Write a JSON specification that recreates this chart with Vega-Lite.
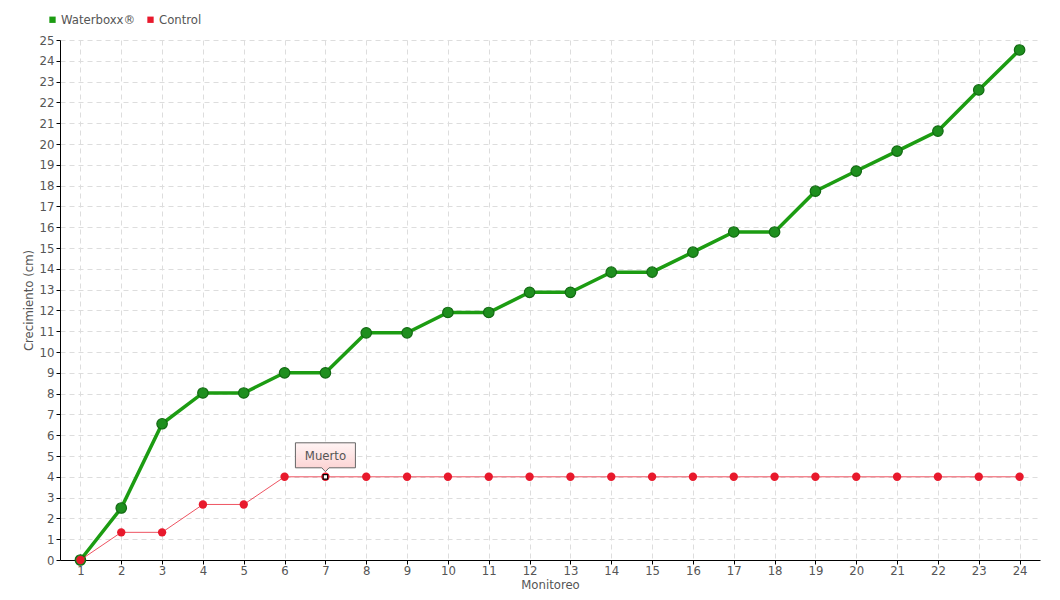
{
  "$schema": "https://vega.github.io/schema/vega-lite/v6.json",
  "autosize": "none",
  "width": 980,
  "height": 520,
  "padding": {"left": 60, "top": 40, "right": 20, "bottom": 40},
  "background": "white",
  "config": {
    "font": "DejaVu Sans Condensed",
    "view": {"stroke": null},
    "axis": {
      "labelFont": "DejaVu Sans Condensed",
      "titleFont": "DejaVu Sans Condensed",
      "labelColor": "#555",
      "titleColor": "#555",
      "labelFontSize": 13,
      "titleFontSize": 13,
      "titleFontWeight": "normal",
      "domainColor": "#000",
      "tickColor": "#000",
      "gridColor": "#dddddd",
      "gridDash": [5, 4],
      "tickSize": 4
    },
    "legend": {
      "labelFont": "DejaVu Sans Condensed",
      "labelFontSize": 13,
      "labelColor": "#555"
    }
  },
  "data": {
    "values": [
      {"m": 1, "s": "Waterboxx®", "v": 0},
      {"m": 2, "s": "Waterboxx®", "v": 2.5},
      {"m": 3, "s": "Waterboxx®", "v": 6.55},
      {"m": 4, "s": "Waterboxx®", "v": 8.03},
      {"m": 5, "s": "Waterboxx®", "v": 8.03},
      {"m": 6, "s": "Waterboxx®", "v": 9},
      {"m": 7, "s": "Waterboxx®", "v": 9},
      {"m": 8, "s": "Waterboxx®", "v": 10.92},
      {"m": 9, "s": "Waterboxx®", "v": 10.92},
      {"m": 10, "s": "Waterboxx®", "v": 11.9},
      {"m": 11, "s": "Waterboxx®", "v": 11.9},
      {"m": 12, "s": "Waterboxx®", "v": 12.87},
      {"m": 13, "s": "Waterboxx®", "v": 12.87},
      {"m": 14, "s": "Waterboxx®", "v": 13.84},
      {"m": 15, "s": "Waterboxx®", "v": 13.84},
      {"m": 16, "s": "Waterboxx®", "v": 14.8},
      {"m": 17, "s": "Waterboxx®", "v": 15.77},
      {"m": 18, "s": "Waterboxx®", "v": 15.77},
      {"m": 19, "s": "Waterboxx®", "v": 17.73},
      {"m": 20, "s": "Waterboxx®", "v": 18.7},
      {"m": 21, "s": "Waterboxx®", "v": 19.66},
      {"m": 22, "s": "Waterboxx®", "v": 20.62},
      {"m": 23, "s": "Waterboxx®", "v": 22.6},
      {"m": 24, "s": "Waterboxx®", "v": 24.52},
      {"m": 1, "s": "Control", "v": 0},
      {"m": 2, "s": "Control", "v": 1.33},
      {"m": 3, "s": "Control", "v": 1.33},
      {"m": 4, "s": "Control", "v": 2.67},
      {"m": 5, "s": "Control", "v": 2.67},
      {"m": 6, "s": "Control", "v": 4},
      {"m": 7, "s": "Control", "v": 4},
      {"m": 8, "s": "Control", "v": 4},
      {"m": 9, "s": "Control", "v": 4},
      {"m": 10, "s": "Control", "v": 4},
      {"m": 11, "s": "Control", "v": 4},
      {"m": 12, "s": "Control", "v": 4},
      {"m": 13, "s": "Control", "v": 4},
      {"m": 14, "s": "Control", "v": 4},
      {"m": 15, "s": "Control", "v": 4},
      {"m": 16, "s": "Control", "v": 4},
      {"m": 17, "s": "Control", "v": 4},
      {"m": 18, "s": "Control", "v": 4},
      {"m": 19, "s": "Control", "v": 4},
      {"m": 20, "s": "Control", "v": 4},
      {"m": 21, "s": "Control", "v": 4},
      {"m": 22, "s": "Control", "v": 4},
      {"m": 23, "s": "Control", "v": 4},
      {"m": 24, "s": "Control", "v": 4}
    ]
  },
  "encoding": {
    "x": {
      "field": "m", "type": "quantitative",
      "scale": {"domain": [0.5, 24.5], "nice": false, "zero": false},
      "axis": {
        "title": "Monitoreo",
        "values": [1,2,3,4,5,6,7,8,9,10,11,12,13,14,15,16,17,18,19,20,21,22,23,24],
        "format": "d",
        "labelPadding": 0,
        "titlePadding": 1
      }
    },
    "y": {
      "field": "v", "type": "quantitative",
      "scale": {"domain": [0, 25], "nice": false},
      "axis": {
        "title": "Crecimiento (cm)",
        "values": [0,1,2,3,4,5,6,7,8,9,10,11,12,13,14,15,16,17,18,19,20,21,22,23,24,25],
        "format": "d",
        "labelPadding": 2,
        "titlePadding": 4
      }
    },
    "color": {
      "field": "s", "type": "nominal",
      "scale": {"domain": ["Waterboxx®", "Control"], "range": ["#1c9c12", "#e8192c"]},
      "legend": {
        "title": null,
        "orient": "none",
        "legendX": -14,
        "legendY": -27,
        "direction": "horizontal",
        "symbolType": "square",
        "symbolSize": 40,
        "symbolOpacity": 1,
        "symbolStrokeWidth": 0,
        "symbolOffset": 0,
        "labelOffset": 2,
        "columnPadding": 8
      }
    }
  },
  "layer": [
    {
      "transform": [{"filter": "datum.s === 'Waterboxx®'"}],
      "mark": {"type": "line", "strokeWidth": 3.5}
    },
    {
      "transform": [{"filter": "datum.s === 'Waterboxx®'"}],
      "mark": {"type": "point", "filled": true, "size": 110, "stroke": "#126a12", "strokeWidth": 1.2, "opacity": 1},
      "encoding": {"color": {"value": "#1e8f1e"}}
    },
    {
      "transform": [{"filter": "datum.s === 'Control'"}],
      "mark": {"type": "line", "strokeWidth": 1, "opacity": 0.75}
    },
    {
      "transform": [{"filter": "datum.s === 'Control'"}],
      "mark": {"type": "point", "filled": true, "size": 70, "opacity": 1}
    },
    {
      "transform": [{"filter": "datum.s === 'Control' && datum.m === 7"}],
      "mark": {"type": "point", "shape": "square", "filled": true, "fill": "white", "stroke": "black", "strokeWidth": 1.2, "size": 20, "opacity": 1},
      "encoding": {"color": {"value": "white"}}
    },
    {
      "transform": [{"filter": "datum.s === 'Control' && datum.m === 7"}],
      "mark": {
        "type": "point",
        "shape": "M-1,-1.133L1,-1.133L1,-0.3L0.12,-0.3L0,-0.17L-0.12,-0.3L-1,-0.3Z",
        "size": 3600,
        "filled": true,
        "fill": {"gradient": "linear", "x1": 0, "y1": 0, "x2": 0, "y2": 1, "stops": [{"offset": 0, "color": "#fff4f4"}, {"offset": 1, "color": "#fcd0d0"}]},
        "stroke": "#666",
        "strokeWidth": 1,
        "opacity": 1
      },
      "encoding": {"color": {"value": "#fde0e0"}}
    },
    {
      "transform": [{"filter": "datum.s === 'Control' && datum.m === 7"}],
      "mark": {"type": "text", "text": "Muerto", "dy": -21, "fontSize": 13, "font": "DejaVu Sans Condensed"},
      "encoding": {"color": {"value": "#555"}}
    }
  ]
}
